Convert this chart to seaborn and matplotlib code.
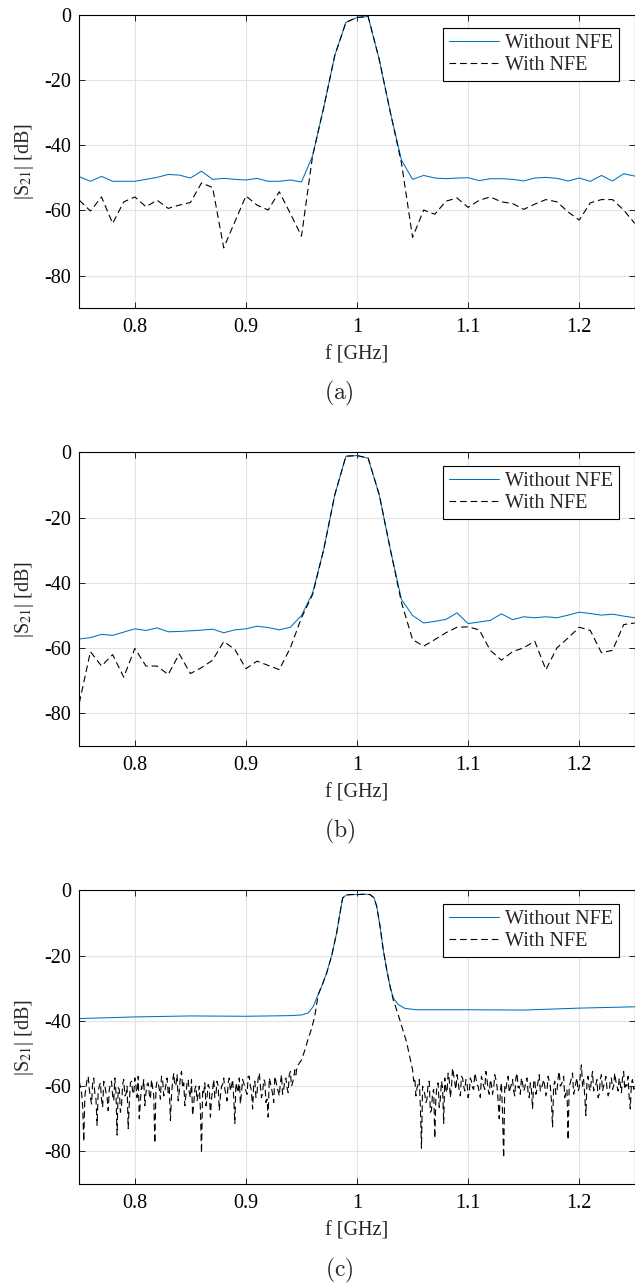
import numpy as np
import matplotlib
matplotlib.use("Agg")
import matplotlib.pyplot as plt
import seaborn as sns

# ---- data ----
freq_ab = np.round(np.linspace(0.75, 1.25, 51), 3)

a_without = [-49.7, -51.1, -49.6, -51.1, -51.1, -51.1, -50.5, -49.9, -49.0, -49.2,
             -50.1, -48.0, -50.5, -50.2, -50.5, -50.7, -50.2, -51.1, -51.1, -50.7,
             -51.3, -43.3, -28.5, -12.5, -2.4, -0.9, -0.6, -13.8, -30.0, -44.6,
             -50.5, -49.3, -50.1, -50.3, -50.1, -50.0, -50.9, -50.3, -50.3, -50.5,
             -51.0, -50.1, -49.9, -50.2, -51.0, -50.1, -51.1, -49.3, -51.0, -48.8, -49.5]
a_with = [-56.9, -60.2, -55.9, -64.0, -57.4, -55.9, -58.9, -56.9, -59.4, -58.4,
          -57.6, -51.6, -53.0, -71.5, -63.5, -55.6, -58.4, -59.9, -54.3, -61.0,
          -67.9, -43.3, -28.5, -12.5, -2.4, -0.9, -0.6, -13.8, -30.0, -45.5,
          -68.3, -59.9, -61.2, -57.2, -56.2, -59.1, -56.9, -55.9, -57.4, -57.9,
          -59.7, -58.1, -56.7, -57.4, -60.5, -63.0, -57.7, -56.7, -56.7, -59.9, -64.0]

b_without = [-57.2, -56.8, -55.8, -56.1, -55.1, -54.1, -54.6, -53.8, -55.0, -54.9,
             -54.7, -54.5, -54.2, -55.3, -54.4, -54.1, -53.3, -53.7, -54.4, -53.6,
             -50.0, -43.1, -29.8, -13.0, -1.2, -1.0, -1.8, -13.0, -29.8, -45.1,
             -50.0, -52.3, -51.8, -51.2, -49.2, -52.5, -52.0, -51.5, -49.5, -51.3,
             -50.4, -50.7, -50.4, -50.7, -49.9, -49.0, -49.4, -49.9, -49.6, -50.2, -50.7]
b_with = [-76.8, -61.1, -65.5, -62.0, -68.9, -60.1, -65.5, -65.5, -68.1, -61.8,
          -67.8, -66.0, -63.7, -58.0, -60.4, -66.3, -64.0, -65.3, -66.6, -59.9,
          -50.7, -43.6, -29.8, -13.0, -1.2, -1.0, -1.8, -13.0, -29.8, -46.0,
          -57.4, -59.4, -57.4, -55.3, -53.6, -53.5, -54.4, -60.7, -63.7, -61.1,
          -59.9, -57.9, -66.6, -59.9, -56.9, -53.6, -54.6, -61.4, -60.7, -52.8, -52.3]

# panel (c): smooth "without" curve
c_without_freq = [0.75, 0.80, 0.85, 0.90, 0.94, 0.950, 0.956, 0.9606, 0.9637, 0.9682,
                  0.9727, 0.9772, 0.9817, 0.9847, 0.9871, 0.9907, 0.9960, 1.0011, 1.0070,
                  1.0117, 1.0153, 1.0177, 1.0207, 1.0236, 1.0267, 1.0297, 1.0326, 1.0371,
                  1.0432, 1.0537, 1.10, 1.15, 1.20, 1.25]
c_without = [-39.3, -38.8, -38.5, -38.6, -38.4, -38.2, -37.6, -35.6, -33.0, -29.4,
             -25.3, -20.0, -13.0, -6.9, -2.3, -1.4, -1.3, -1.3, -1.2,
             -1.3, -2.3, -4.9, -11.0, -18.2, -24.3, -29.4, -33.0, -35.0,
             -36.2, -36.6, -36.6, -36.7, -36.1, -35.7]

# panel (c): "with" curve = noisy stopband (even + odd samples) + passband skirt
c_left_even = [-58.5, -62.0, -77.0, -60.5, -57.0, -63.5, -59.0, -62.5, -72.0, -60.0,
               -64.0, -58.5, -62.0, -67.5, -59.5, -63.0, -57.5, -75.0, -61.0, -66.0,
               -58.0, -62.5, -73.0, -59.0, -61.5, -57.5, -63.5, -70.0, -60.0, -58.0,
               -62.0, -59.0, -64.0, -60.5, -77.5, -58.5, -61.0, -57.0, -63.0, -59.5,
               -62.0, -70.5, -58.5, -60.0, -56.5, -61.5, -55.5, -59.0, -62.5, -58.0,
               -63.5, -69.0, -61.0, -64.5, -60.0, -80.5, -62.0, -66.0, -59.5, -69.5,
               -61.0, -63.5, -58.5, -67.5, -60.0, -57.5, -62.5, -59.0, -61.5, -58.0,
               -71.5, -60.5, -57.5, -62.0, -59.0, -61.5, -57.0, -60.0, -67.0, -58.5,
               -62.0, -56.0, -63.5, -58.0, -65.0, -69.5, -59.0, -62.5, -57.0, -60.5,
               -63.0, -56.5, -61.0, -57.5, -62.0, -55.5, -59.0, -55.0, -54.0]
c_left_odd = [-60.5, -66.0, -63.0, -58.0, -61.0, -65.5, -57.5, -64.0, -61.5, -59.0,
              -66.5, -60.0, -63.5, -61.0, -58.5, -64.5, -62.0, -60.5, -68.0, -59.5,
              -63.0, -60.0, -65.0, -58.5, -62.5, -60.0, -57.0, -64.5, -61.0, -66.0,
              -59.5, -62.5, -58.0, -63.0, -60.5, -59.0, -64.0, -58.0, -61.5, -57.5,
              -60.5, -63.0, -56.0, -59.5, -64.5, -57.0, -60.5, -66.0, -59.0, -62.0,
              -58.0, -65.5, -60.0, -62.5, -67.0, -61.0, -59.0, -63.5, -60.5, -64.0,
              -58.0, -62.5, -60.0, -63.0, -59.5, -61.0, -64.5, -57.5, -60.0, -63.5,
              -59.0, -62.0, -65.5, -58.0, -60.5, -62.5, -57.0, -61.5, -59.5, -63.5,
              -57.5, -60.0, -62.0, -58.5, -64.0, -57.5, -60.5, -65.0, -58.5, -61.5,
              -59.0, -62.5, -58.0, -60.5, -56.5, -60.0, -57.5, -56.5]
c_skirt_freq = [0.950, 0.953, 0.956, 0.959, 0.962, 0.965, 0.9682, 0.9727, 0.9772, 0.9817,
                0.9847, 0.9871, 0.9907, 0.9960, 1.0011, 1.0070, 1.0117, 1.0153, 1.0177,
                1.0207, 1.0236, 1.0267, 1.0297, 1.0326, 1.0374, 1.0446]
c_skirt = [-52.0, -49.0, -45.5, -42.5, -38.5, -32.0, -29.4, -25.3, -20.0, -13.0,
           -6.9, -2.3, -1.4, -1.3, -1.3, -1.2, -1.3, -2.3, -4.9,
           -11.0, -18.2, -24.3, -29.4, -33.5, -38.5, -46.5]
c_right_even = [-55.0, -57.5, -60.5, -58.0, -79.0, -61.0, -65.0, -59.0, -68.0, -62.0,
                -76.0, -60.0, -66.5, -58.5, -71.5, -61.0, -56.0, -63.5, -54.5, -59.0,
                -56.5, -61.5, -57.0, -60.0, -58.0, -63.5, -57.5, -60.5, -56.0, -59.5,
                -62.0, -57.0, -60.0, -55.5, -61.0, -58.0, -62.5, -56.5, -60.0, -70.0,
                -59.0, -82.0, -61.0, -57.0, -60.5, -58.0, -63.0, -56.0, -60.0, -57.5,
                -61.5, -58.5, -62.0, -59.0, -67.0, -58.0, -61.0, -56.5, -60.5, -58.0,
                -63.0, -57.0, -60.0, -72.5, -58.5, -61.5, -55.5, -59.5, -57.0, -62.0,
                -76.5, -59.0, -56.0, -61.0, -57.5, -60.5, -53.5, -58.0, -69.0, -57.0,
                -61.5, -55.5, -60.0, -58.0, -62.5, -56.5, -60.0, -57.0, -63.0, -58.0,
                -61.0, -56.0, -60.0, -57.5, -62.0, -55.5, -59.5, -57.0, -67.0, -58.0, -60.5]
c_right_odd = [-58.5, -63.0, -59.5, -66.0, -60.0, -62.5, -64.0, -58.5, -67.5, -61.0,
               -63.5, -59.0, -64.0, -60.5, -57.5, -62.0, -58.0, -60.5, -56.5, -61.0,
               -58.5, -63.0, -57.5, -61.5, -59.0, -62.0, -58.5, -61.0, -57.5, -60.0,
               -63.5, -58.5, -61.0, -58.0, -62.5, -59.5, -60.5, -58.0, -64.5, -61.5,
               -68.5, -60.0, -58.5, -62.0, -59.5, -61.5, -57.5, -60.5, -62.5, -59.0,
               -60.5, -57.5, -63.5, -61.0, -59.0, -62.5, -58.5, -61.5, -59.5, -60.0,
               -61.5, -58.5, -64.5, -60.0, -62.5, -57.5, -60.0, -58.5, -63.5, -61.0,
               -60.0, -57.5, -62.5, -59.0, -61.5, -56.5, -60.0, -63.0, -58.5, -60.5,
               -58.0, -61.5, -59.5, -63.5, -58.0, -61.5, -59.0, -60.5, -62.0, -57.5,
               -60.0, -58.5, -61.5, -59.5, -57.5, -61.0, -60.0, -63.5, -59.0, -61.0]

captions = ["(a)", "(b)", "(c)"]
legend_labels = ["Without NFE", "With NFE"]

# interleave even/odd stopband samples (1 MHz grid)
c_left = np.empty(len(c_left_even) + len(c_left_odd))
c_left[0::2], c_left[1::2] = c_left_even, c_left_odd
c_left_freq = np.linspace(0.75, 0.946, len(c_left))
c_right = np.empty(len(c_right_even) + len(c_right_odd))
c_right[0::2], c_right[1::2] = c_right_even, c_right_odd
c_right_freq = np.linspace(1.05, 1.25, len(c_right))

# ---- style ----
sns.set_style("ticks")
plt.rcParams["font.family"] = ["Liberation Serif", "DejaVu Serif"]
plt.rcParams["axes.unicode_minus"] = False
plt.rcParams["mathtext.fontset"] = "stix"

blue = "#0072BD"
fs = 14.5

fig = plt.figure(figsize=(6.35, 12.86), dpi=100)
bottoms = [0.7603, 0.4199, 0.0793]
caption_y = [1 - 393 / 1286, 1 - 831 / 1286, 1 - 1270 / 1286]

panels = [
    (freq_ab, a_without, freq_ab, a_with),
    (freq_ab, b_without, freq_ab, b_with),
    (c_without_freq, c_without,
     np.concatenate([c_left_freq, c_skirt_freq, c_right_freq]),
     np.concatenate([c_left, c_skirt, c_right])),
]

for i, (fx1, y1, fx2, y2) in enumerate(panels):
    ax = fig.add_axes([0.1249, bottoms[i], 0.8747, 0.2284])
    sns.lineplot(x=fx1, y=y1, ax=ax, color=blue, lw=0.75, estimator=None,
                 sort=False, label=legend_labels[0])
    sns.lineplot(x=fx2, y=y2, ax=ax, color="black", lw=0.8, estimator=None,
                 sort=False, label=legend_labels[1], linestyle=(0, (6, 3.5)))
    ax.set_xlim(0.75, 1.25)
    ax.set_ylim(-90, 0)
    ax.set_xticks([0.8, 0.9, 1.0, 1.1, 1.2])
    ax.set_xticklabels(["0.8", "0.9", "1", "1.1", "1.2"])
    ax.set_yticks([0, -20, -40, -60, -80])
    ax.set_yticklabels(["0", "-20", "-40", "-60", "-80"])
    ax.grid(True, color="#e3e3e3", lw=0.8)
    ax.set_axisbelow(True)
    ax.tick_params(direction="in", length=4, width=0.6, top=True, right=True,
                   labelsize=fs, colors="black", pad=6)
    ax.tick_params(axis="x", pad=7)
    for sp in ax.spines.values():
        sp.set_visible(True)
        sp.set_color("black")
        sp.set_linewidth(0.8)
    ax.set_xlabel("f [GHz]", fontsize=fs, labelpad=6)
    ax.set_ylabel("|S$_{21}$| [dB]", fontsize=fs, labelpad=6)
    leg = ax.legend(loc="upper right", bbox_to_anchor=(0.972, 0.955),
                    borderaxespad=0, fontsize=fs, frameon=True, fancybox=False,
                    edgecolor="black", framealpha=1, handlelength=2.5,
                    handletextpad=0.3, labelspacing=0.15, borderpad=0.3)
    leg.get_frame().set_linewidth(0.8)
    fig.text(0.534, caption_y[i], r"$\mathrm{" + captions[i] + "}$",
             ha="center", va="center", fontsize=17, math_fontfamily="cm")

fig.savefig("out.png", dpi=100)
